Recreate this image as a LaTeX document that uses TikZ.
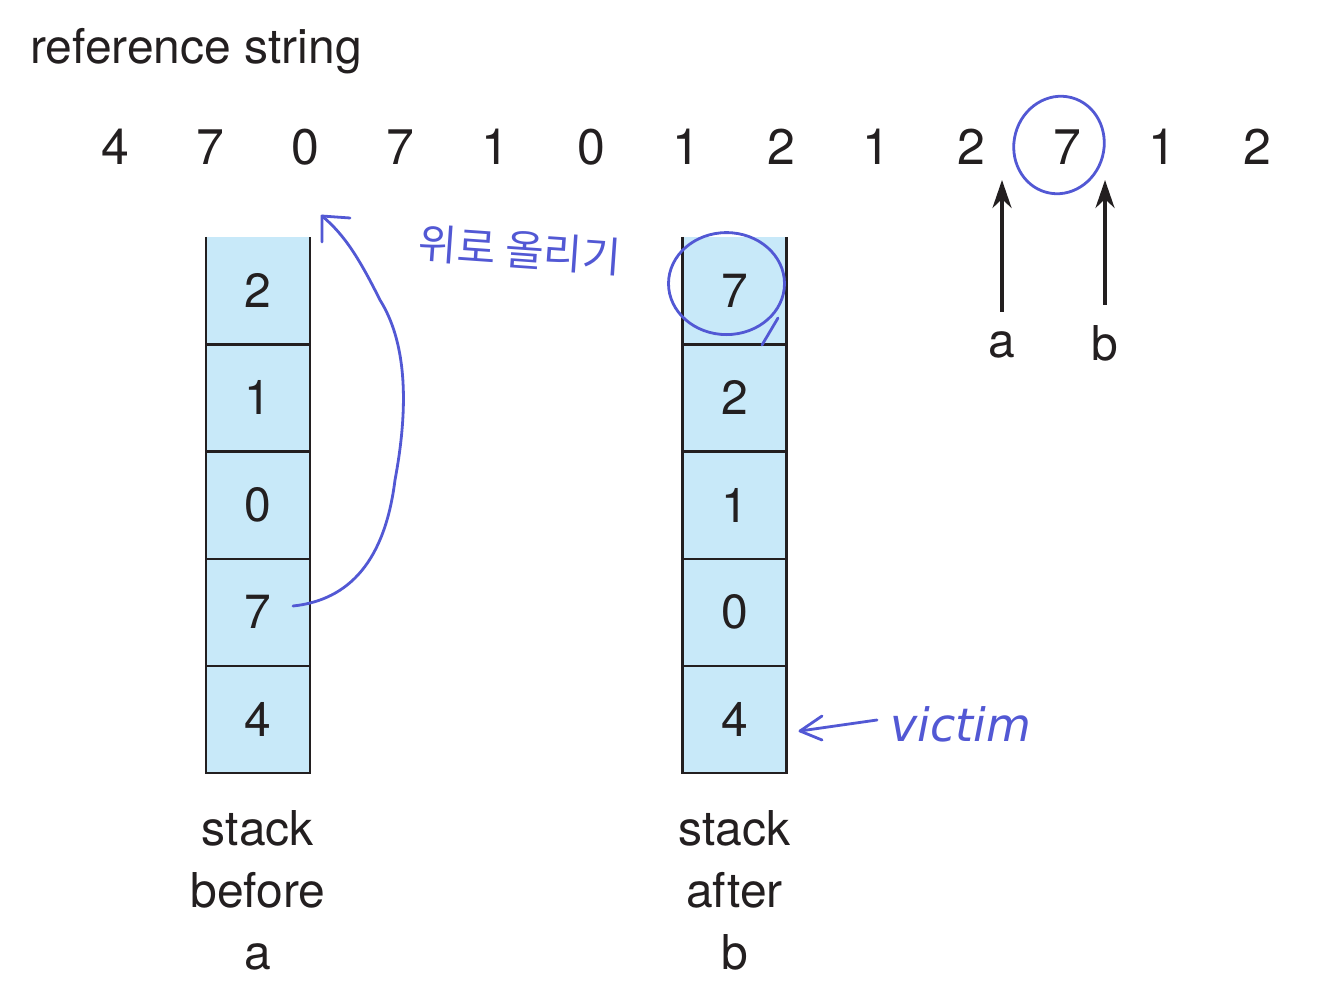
\documentclass[tikz,border=0pt]{standalone}
\usepackage{fontspec}
\setmainfont{TeX Gyre Heros}
\newfontfamily\krfont{Noto Sans CJK KR}
\newfontfamily\handfont{DejaVu Sans}
\usetikzlibrary{arrows.meta,calc}
\definecolor{cellblue}{RGB}{200,233,249}
\definecolor{ink}{RGB}{35,31,32}
\definecolor{pen}{RGB}{82,88,212}
\tikzset{
  cell/.style={fill=cellblue,minimum width=104pt,minimum height=107.2pt,inner sep=0pt,
    font=\fontsize{48}{48}\selectfont,text=ink},
  refnum/.style={font=\fontsize{50}{50}\selectfont,text=ink,inner sep=0pt},
  caption/.style={font=\fontsize{48}{62}\selectfont,align=center,text=ink,inner sep=0pt},
  stackline/.style={draw=ink,line width=2.5pt},
  ptr/.style={draw=ink,line width=4pt,-{Stealth[length=28pt,width=19pt]}},
  handpen/.style={draw=pen,line width=2.8pt,line cap=round,line join=round}
}
\begin{document}
\begin{tikzpicture}[x=1pt,y=-1pt]
\useasboundingbox (0,0) rectangle (1330,1000);
\fill[white] (0,0) rectangle (1330,1000);
% title
\node[anchor=base west,inner sep=0pt,font=\fontsize{48}{48}\selectfont,text=ink] (title) at (30,64) {reference string};
% reference string
\foreach \v [count=\i] in {4,7,0,7,1,0,1,2,1,2,7,1,2} {
  \node[refnum] (r\i) at ({115+95.2*(\i-1)},147) {\v};
}
% left stack
\foreach \v [count=\i] in {2,1,0,7,4} {
  \node[cell] (L\i) at (258,{290.6+107.2*(\i-1)}) {\v};
}
\draw[stackline] (L1.north west) -- (L5.south west) -- (L5.south east) -- (L1.north east);
\foreach \i in {1,2,3,4} \draw[stackline] (L\i.south west) -- (L\i.south east);
% right stack
\foreach \v [count=\i] in {7,2,1,0,4} {
  \node[cell] (R\i) at (734.5,{290.6+107.2*(\i-1)}) {\v};
}
\draw[stackline] (R1.north west) -- (R5.south west) -- (R5.south east) -- (R1.north east);
\foreach \i in {1,2,3,4} \draw[stackline] (R\i.south west) -- (R\i.south east);
% captions
\node[caption,anchor=north] (capL) at (258,810) {stack\\before\\a};
\node[caption,anchor=north] (capR) at (734.5,810) {stack\\after\\b};
% pointers a, b
\node[font=\fontsize{48}{48}\selectfont,text=ink,inner sep=0pt] (la) at (1002,345) {a};
\node[font=\fontsize{48}{48}\selectfont,text=ink,inner sep=0pt] (lb) at (1105,343) {b};
\coordinate (ta) at (1002,180);
\coordinate (tb) at (1105,180);
\draw[ptr,shorten <=20pt] (la.north) -- (ta);
\draw[ptr,shorten <=20pt] (lb.north) -- (tb);
% handwritten annotations
\draw[handpen,rotate around={-15:(1059,145)}] (1059,145) ellipse (45pt and 49pt);
\draw[handpen] (R1.center) ++(-8,-7) ellipse (58pt and 51pt);
\draw[handpen] (778,318) -- (762,345);
% curved arrow from 7 to top
\coordinate (cs) at (293,606);
\coordinate (ce) at (322,216);
\draw[handpen] (cs) .. controls (350,600) and (385,560) .. (395,480)
  .. controls (410,400) and (405,340) .. (380,300)
  .. controls (360,260) and (345,235) .. (ce);
\draw[handpen] (322,242) -- (ce) -- (350,218);
\node[text=pen,font=\krfont\fontsize{42}{42}\selectfont,inner sep=0pt,rotate=-4] (up) at (520,250) {위로 올리기};
% victim
\coordinate (vs) at (877,720);
\coordinate (ve) at (800,731);
\draw[handpen] (vs) -- (ve);
\draw[handpen] (822,716) -- (ve) -- (822,740);
\node[text=pen,font=\handfont\itshape\fontsize{46}{46}\selectfont,inner sep=0pt,anchor=west] (vic) at (890,724) {victim};
\end{tikzpicture}
\end{document}
